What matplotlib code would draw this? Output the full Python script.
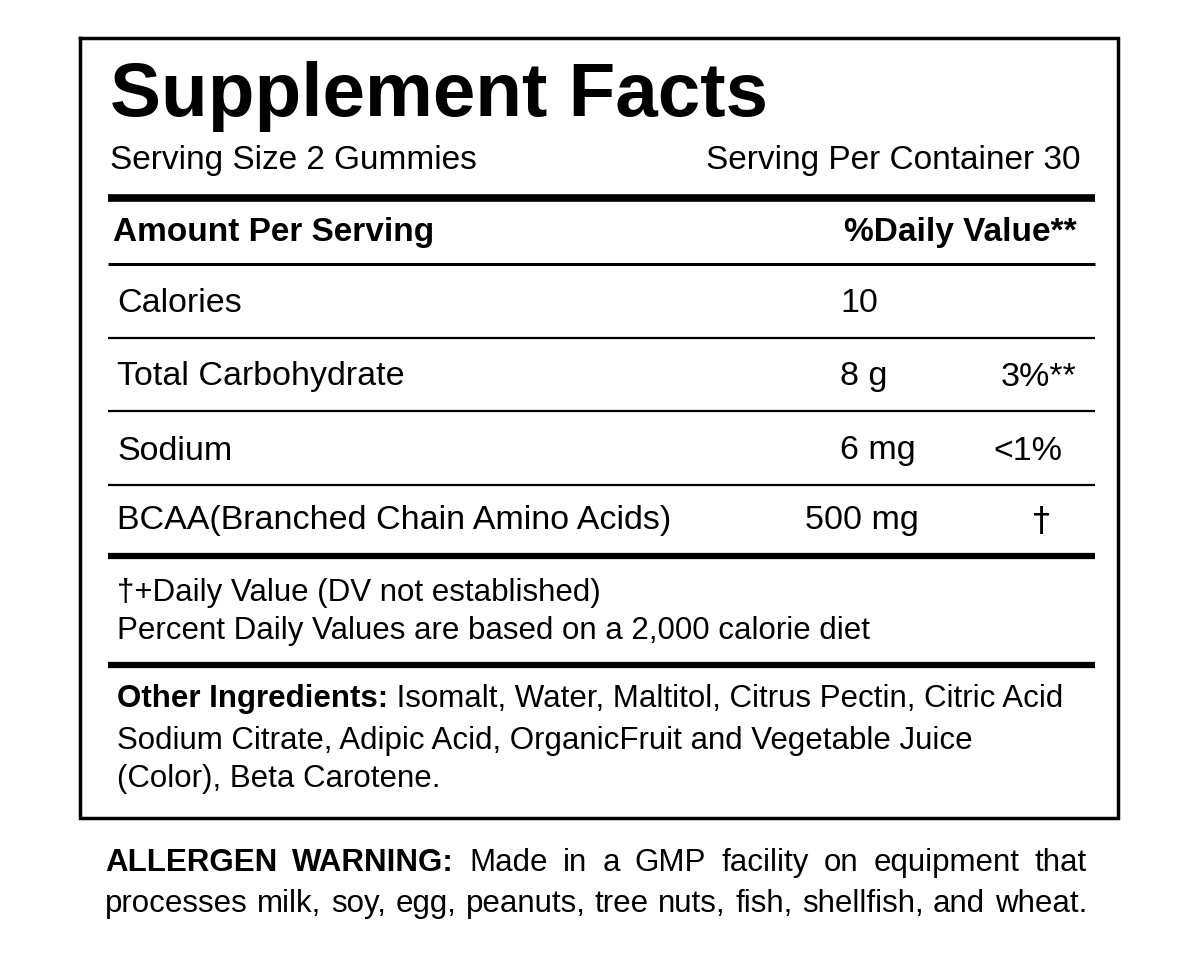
import matplotlib
matplotlib.use("Agg")
import matplotlib.pyplot as plt

title = "Supplement Facts"
serving_size = "Serving Size 2 Gummies"
serving_per = "Serving Per Container 30"
header_left = "Amount Per Serving"
header_right = "%Daily Value**"
nutrients = ["Calories", "Total Carbohydrate", "Sodium", "BCAA(Branched Chain Amino Acids)"]
amounts = ["10", "8 g", "6 mg", "500 mg"]
daily_values = ["", "3%**", "<1%", "†"]
footnotes = ["†+Daily Value (DV not established)",
             "Percent Daily Values are based on a 2,000 calorie diet"]
ingredients_label = "Other Ingredients:"
ingredients_lines = [" Isomalt, Water, Maltitol, Citrus Pectin, Citric Acid",
                     "Sodium Citrate, Adipic Acid, OrganicFruit and Vegetable Juice",
                     "(Color), Beta Carotene."]
allergen_label = "ALLERGEN WARNING:"
allergen_lines = ["Made in a GMP facility on equipment that",
                  "processes milk, soy, egg, peanuts, tree nuts, fish, shellfish, and wheat."]

plt.rcParams['font.family'] = ['Liberation Sans', 'DejaVu Sans']
fig = plt.figure(figsize=(12, 9.6), dpi=100)
ax = fig.add_axes([0, 0, 1, 1])
ax.set_xlim(0, 1200); ax.set_ylim(960, 0); ax.axis('off')
fig.patch.set_facecolor('white')

ax.plot([80, 1118, 1118, 80, 80], [38, 38, 818, 818, 38], color='black', lw=2.5, solid_joinstyle='miter')

fs = 24.5
fs2 = 22.5
ax.text(110, 97, title, fontsize=55, fontweight='bold', va='center', ha='left')
ax.text(110, 161, serving_size, fontsize=24, va='center')
ax.text(1080, 161, serving_per, fontsize=24, va='center', ha='right')

def hline(y, lw):
    ax.plot([108, 1095], [y, y], color='black', lw=lw, solid_capstyle='butt')

hline(198, 5.5)
ax.text(113, 232, header_left, fontsize=24, fontweight='bold', va='center')
ax.text(1077, 232, header_right, fontsize=24, fontweight='bold', va='center', ha='right')
hline(264, 2.2)

row_y = [303, 377, 451, 521]
amt_x = [840, 840, 840, 805]
dv_x = [None, 1077, 1062, 1042]
dv_ha = [None, 'right', 'right', 'center']
sep_y = [338, 411, 485]
for i, (n, a, d) in enumerate(zip(nutrients, amounts, daily_values)):
    ax.text(117, row_y[i], n, fontsize=fs, va='center')
    ax.text(amt_x[i], row_y[i], a, fontsize=fs, va='center')
    if d:
        ax.text(dv_x[i], row_y[i], d, fontsize=fs, va='center', ha=dv_ha[i],
                family=['DejaVu Sans'] if d == '†' else None)
for y in sep_y:
    hline(y, 1.6)
hline(556, 4.5)
for j, f in enumerate(footnotes):
    ax.text(117, 593 + 38 * j, f, fontsize=fs2, va='center')
hline(665, 4.5)

fig.canvas.draw()
r = fig.canvas.get_renderer()
inv = ax.transData.inverted()

def width(t):
    bb = t.get_window_extent(renderer=r)
    p0 = inv.transform((bb.x0, bb.y0)); p1 = inv.transform((bb.x1, bb.y0))
    return p1[0] - p0[0]

lab = ax.text(117, 699, ingredients_label, fontsize=fs2, fontweight='bold', va='center')
w = width(lab)
ax.text(117 + w, 699, ingredients_lines[0], fontsize=fs2, va='center')
ax.text(117, 741, ingredients_lines[1], fontsize=fs2, va='center')
ax.text(117, 779, ingredients_lines[2], fontsize=fs2, va='center')

def justify(words, bolds, y, x0, x1):
    ts = [ax.text(0, y, wd, fontsize=fs2, va='center', fontweight='bold' if b else 'normal')
          for wd, b in zip(words, bolds)]
    ws = [width(t) for t in ts]
    gap = (x1 - x0 - sum(ws)) / (len(ws) - 1)
    x = x0
    for t, wd in zip(ts, ws):
        t.set_x(x); x += wd + gap

w1 = allergen_label.split() + allergen_lines[0].split()
b1 = [True] * len(allergen_label.split()) + [False] * len(allergen_lines[0].split())
justify(w1, b1, 863, 105, 1087)
w2 = allergen_lines[1].split()
justify(w2, [False] * len(w2), 904, 105, 1087)

fig.savefig("out.png", dpi=100, facecolor='white')
